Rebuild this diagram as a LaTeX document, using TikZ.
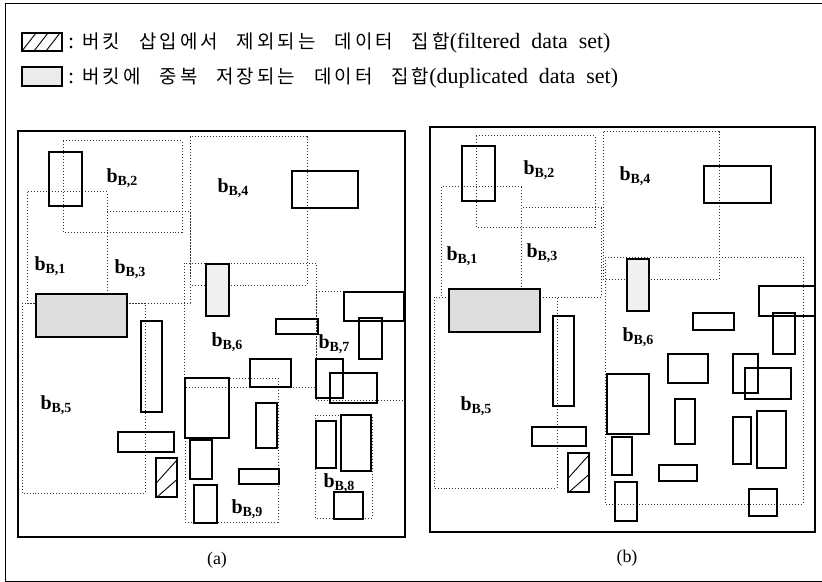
\documentclass[tikz,border=0pt]{standalone}
\usepackage{fontspec}
\setmainfont{Liberation Serif}
\newfontfamily\kr[LetterSpace=16]{Noto Sans CJK KR}
\tikzset{
  frameline/.style={line width=2.4bp},
  thinframe/.style={line width=1bp},
  obj/.style={draw, line width=1.1bp},
  dup/.style={obj, fill=black!13},
  duplight/.style={obj, fill=black!6},
  bkt/.style={draw=black!80, dotted, line width=1bp},
  lbl/.style={font=\bfseries\fontsize{20}{20}\selectfont, inner sep=0pt},
  captxt/.style={font=\fontsize{18}{18}\selectfont, inner sep=0pt},
  head/.style={font=\fontsize{22}{22}\selectfont, inner sep=0pt, anchor=base west},
}
\newcommand{\bl}[1]{b{\fontsize{14}{14}\selectfont\raisebox{-3bp}{#1}}}
\newcommand{\kw}[1]{{\kr\fontsize{19}{19}\selectfont #1}}
\newcommand{\ksp}{\hspace{19bp}}
\newcommand{\lsp}{\hspace{11bp}}
\newcommand{\hatchbox}[4]{%
  \draw[obj] (#1,#2) rectangle (#3,#4);
  \draw[line width=0.9bp] (#1,{#2+0.65*(#4-#2)}) -- (#3,{#2+0.05*(#4-#2)});
  \draw[line width=0.9bp] ({#1+0.05*(#3-#1)},#4) -- (#3,{#2+0.55*(#4-#2)});
}
\begin{document}
\begin{tikzpicture}[x=1bp,y=-1bp]
\useasboundingbox (0,0) rectangle (822,582);
% outer frame
\draw[thinframe] (822,4) -- (5,4) -- (5,581) -- (822,581);
% legend
\draw[obj] (22,33) rectangle (62,51);
\draw[line width=0.9bp] (22,51) -- (36,33) (34,51) -- (48,33) (46,51) -- (60,33);
\node[head] (t1) at (68,49) {:\hspace{8bp}\kw{버킷}\ksp\kw{삽입에서}\ksp\kw{제외되는}\ksp\kw{데이터}\ksp\kw{집합}(filtered\lsp data\lsp set)};
\draw[obj, fill=black!8] (22,67) rectangle (62,86);
\node[head] (t2) at (68,84) {:\hspace{8bp}\kw{버킷에}\ksp\kw{중복}\ksp\kw{저장되는}\ksp\kw{데이터}\ksp\kw{집합}(duplicated\lsp data\lsp set)};

% ===== panel (a) =====
\draw[bkt] (63,141) rectangle (182,232);
\draw[bkt] (27,192) rectangle (107,303);
\draw[bkt] (107,212) rectangle (190,303);
\draw[bkt] (190,137) rectangle (307,285);
\draw[bkt] (22,303) rectangle (145,493);
\draw[bkt] (184,263) rectangle (316,387);
\draw[bkt] (316,291) rectangle (405,400);
\draw[bkt] (315,415) rectangle (372,518);
\draw[bkt] (185,378) rectangle (278,522);

\draw[obj] (49,152) rectangle (82,206);
\draw[obj] (292,171) rectangle (358,208);
\draw[dup] (36,294) rectangle (127,337);
\draw[duplight] (206,264) rectangle (229,316);
\draw[obj] (141,321) rectangle (162,412);
\draw[obj] (276,319) rectangle (318,334);
\draw[obj] (344,292) rectangle (404,321);
\draw[obj] (359,318) rectangle (382,359);
\draw[obj] (250,359) rectangle (291,387);
\draw[obj] (185,378) rectangle (229,438);
\draw[obj] (316,359) rectangle (343,398);
\draw[obj] (330,373) rectangle (377,403);
\draw[obj] (256,403) rectangle (277,448);
\draw[obj] (316,421) rectangle (336,468);
\draw[obj] (341,415) rectangle (371,471);
\draw[obj] (118,432) rectangle (174,452);
\draw[obj] (190,440) rectangle (212,479);
\hatchbox{156}{458}{177}{497}
\draw[obj] (239,469) rectangle (279,484);
\draw[obj] (194,485) rectangle (217,523);
\draw[obj] (334,492) rectangle (363,519);

\node[lbl] (a2) at (122,178) {\bl{B,2}};
\node[lbl] (a4) at (233,188) {\bl{B,4}};
\node[lbl] (a1) at (50,266) {\bl{B,1}};
\node[lbl] (a3) at (130,269) {\bl{B,3}};
\node[lbl] (a5) at (56,405) {\bl{B,5}};
\node[lbl] (a6) at (227,342) {\bl{B,6}};
\node[lbl] (a7) at (334,344) {\bl{B,7}};
\node[lbl] (a8) at (339,483) {\bl{B,8}};
\node[lbl] (a9) at (247,509) {\bl{B,9}};

\draw[frameline] (18,131) rectangle (405,537);
\node[captxt] (ca) at (217,560) {(a)};

% ===== panel (b) =====
\draw[bkt] (476,136) rectangle (595,227);
\draw[bkt] (441,187) rectangle (521,297);
\draw[bkt] (521,208) rectangle (601,297);
\draw[bkt] (603,132) rectangle (719,279);
\draw[bkt] (434,297) rectangle (557,488);
\draw[bkt] (605,257) rectangle (803,504);

\draw[obj] (462,146) rectangle (495,201);
\draw[obj] (704,166) rectangle (771,203);
\draw[dup] (449,289) rectangle (540,332);
\draw[duplight] (627,259) rectangle (649,311);
\draw[obj] (553,316) rectangle (574,406);
\draw[obj] (693,313) rectangle (734,330);
\draw[obj] (759,286) rectangle (815,316);
\draw[obj] (773,313) rectangle (795,354);
\draw[obj] (668,354) rectangle (708,383);
\draw[obj] (607,374) rectangle (649,434);
\draw[obj] (733,354) rectangle (758,393);
\draw[obj] (745,368) rectangle (791,399);
\draw[obj] (675,399) rectangle (695,444);
\draw[obj] (733,417) rectangle (751,464);
\draw[obj] (757,411) rectangle (786,468);
\draw[obj] (532,427) rectangle (586,446);
\draw[obj] (612,437) rectangle (632,475);
\hatchbox{568}{453}{589}{492}
\draw[obj] (659,465) rectangle (697,481);
\draw[obj] (615,482) rectangle (637,521);
\draw[obj] (749,489) rectangle (777,516);

\node[lbl] (b2) at (539,170) {\bl{B,2}};
\node[lbl] (b4) at (635,176) {\bl{B,4}};
\node[lbl] (b1) at (462,256) {\bl{B,1}};
\node[lbl] (b3) at (542,253) {\bl{B,3}};
\node[lbl] (b5) at (476,406) {\bl{B,5}};
\node[lbl] (b6) at (638,337) {\bl{B,6}};

\draw[frameline] (430,127) rectangle (815,532);
\node[captxt] (cb) at (627,558) {(b)};
\end{tikzpicture}
\end{document}
